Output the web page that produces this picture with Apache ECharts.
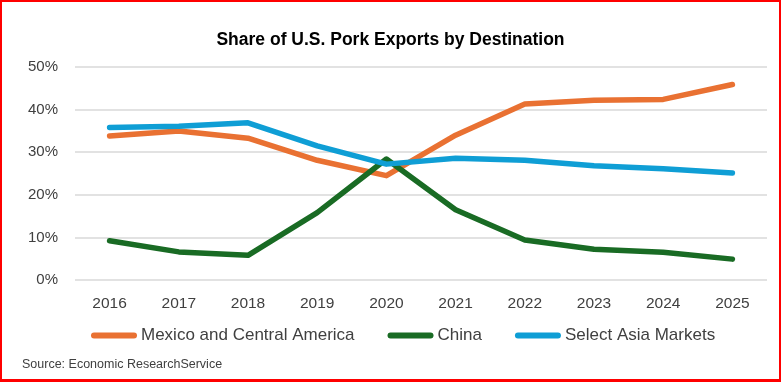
<!DOCTYPE html>
<html>
<head>
<meta charset="utf-8">
<script src="https://cdn.jsdelivr.net/npm/echarts@6/dist/echarts.min.js"></script>
<style>
html,body{margin:0;padding:0;background:#fff;}
#wrap{position:relative;width:781px;height:382px;}
#chart{position:absolute;left:0;top:0;width:781px;height:382px;}
#frame{position:absolute;left:0;top:0;width:781px;height:382px;box-sizing:border-box;border:2px solid #ff0000;border-right-width:2.5px;border-bottom-width:3px;pointer-events:none;}
</style>
</head>
<body>
<div id="wrap"><div id="chart"></div><div id="frame"></div></div>
<script>
var categories = ['2016','2017','2018','2019','2020','2021','2022','2023','2024','2025'];
var mexicoCentralAmerica = [33.8, 35.0, 33.3, 28.1, 24.5, 34.0, 41.3, 42.2, 42.4, 45.9];
var china = [9.2, 6.6, 5.8, 15.8, 28.4, 16.5, 9.4, 7.2, 6.5, 4.9];
var selectAsia = [35.8, 36.1, 36.9, 31.5, 27.2, 28.6, 28.1, 26.8, 26.1, 25.1];
var seriesNames = ['Mexico and Central America', 'China', 'Select Asia Markets'];
var yTicks = [0, 10, 20, 30, 40, 50];

var FONT = '"Liberation Sans", Arial, sans-serif';
var pill = 'path://M3,0H43A3,3 0 0 1 43,6H3A3,3 0 0 1 3,0Z';
var chart = echarts.init(document.getElementById('chart'), null, {renderer:'canvas'});
function lineSeries(name, data, color){
  return {
    name: name, type: 'line', data: data, symbol: 'none', smooth: false,
    lineStyle: {color: color, width: 5.5, cap: 'round', join: 'round'},
    itemStyle: {color: color},
    emphasis: {disabled: true}
  };
}
chart.setOption({
  animation: false,
  backgroundColor: '#ffffff',
  title: {
    text: 'Share of U.S. Pork Exports by Destination',
    left: 'center', top: 26,
    textStyle: {fontFamily: FONT, fontSize: 17.5, fontWeight: 'bold', color: '#000000'}
  },
  legend: {
    left: 86, top: 322, itemWidth: 46, itemHeight: 6, itemGap: 33,
    icon: pill,
    textStyle: {fontFamily: FONT, fontSize: 17, color: '#404040', padding: [0,0,0,-1]},
    data: seriesNames
  },
  grid: {left: 75, right: 14, top: 67, bottom: 102},
  xAxis: {
    type: 'category', data: categories, boundaryGap: true,
    axisLine: {show: false}, axisTick: {show: false},
    axisLabel: {fontFamily: FONT, fontSize: 15.5, color: '#404040', margin: 16}
  },
  yAxis: {
    type: 'value', min: yTicks[0], max: yTicks[yTicks.length-1], interval: 10,
    axisLine: {show: false}, axisTick: {show: false},
    axisLabel: {fontFamily: FONT, fontSize: 15, color: '#404040', margin: 17, formatter: '{value}%'},
    splitLine: {lineStyle: {color: '#d9d9d9', width: 1.5}}
  },
  graphic: [{
    type: 'text', left: 22, top: 358,
    style: {text: 'Source: Economic ResearchService', font: '12.5px ' + FONT, fill: '#404040'}
  }],
  series: [
    lineSeries(seriesNames[0], mexicoCentralAmerica, '#E97132'),
    lineSeries(seriesNames[1], china, '#196B24'),
    lineSeries(seriesNames[2], selectAsia, '#0F9ED5')
  ]
});
</script>
</body>
</html>
